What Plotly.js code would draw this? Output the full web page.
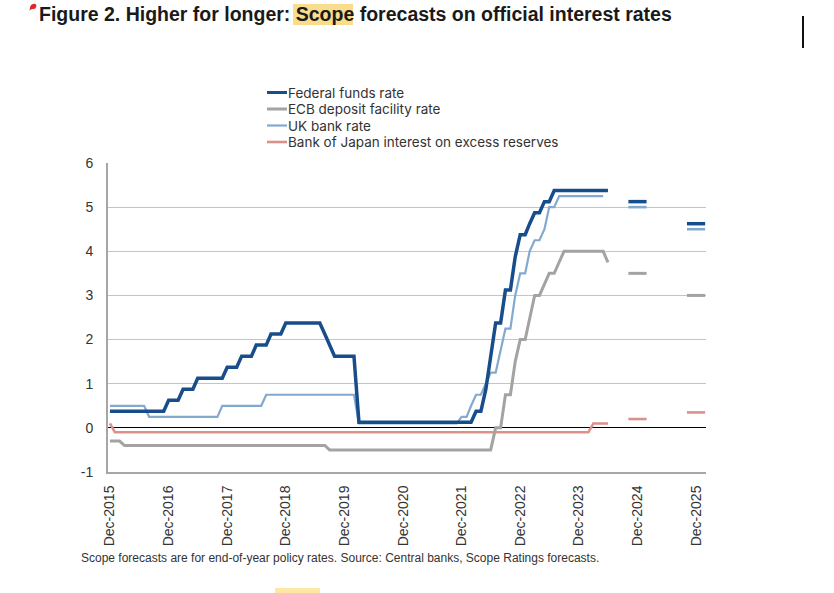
<!DOCTYPE html>
<html><head><meta charset="utf-8">
<script src="https://cdn.plot.ly/plotly-3.0.1.min.js"></script>
<style>html,body{margin:0;padding:0;background:#fff;} #chart{width:834px;height:593px;}</style>
</head><body><div id="chart"></div>
<script>
// ---- Data (monthly, month-end, Dec-2015 .. Jun-2024) ----
const seriesNames = ["Federal funds rate", "ECB deposit facility rate", "UK bank rate", "Bank of Japan interest on excess reserves"];

const fedFunds = [
 0.375,0.375,0.375,0.375,0.375,0.375,0.375,0.375,0.375,0.375,0.375,0.375,
 0.625,0.625,0.625,0.875,0.875,0.875,1.125,1.125,1.125,1.125,1.125,1.125,
 1.375,1.375,1.375,1.625,1.625,1.625,1.875,1.875,1.875,2.125,2.125,2.125,
 2.375,2.375,2.375,2.375,2.375,2.375,2.375,2.375,2.125,1.875,1.625,1.625,
 1.625,1.625,1.625,0.125,0.125,0.125,0.125,0.125,0.125,0.125,0.125,0.125,
 0.125,0.125,0.125,0.125,0.125,0.125,0.125,0.125,0.125,0.125,0.125,0.125,
 0.125,0.125,0.125,0.375,0.375,0.875,1.625,2.375,2.375,3.125,3.125,3.875,
 4.375,4.375,4.625,4.875,4.875,5.125,5.125,5.375,5.375,5.375,5.375,5.375,
 5.375,5.375,5.375,5.375,5.375,5.375,5.375
];
const ecbDeposit = [
 -0.3,-0.3,-0.3,-0.4,-0.4,-0.4,-0.4,-0.4,-0.4,-0.4,-0.4,-0.4,
 -0.4,-0.4,-0.4,-0.4,-0.4,-0.4,-0.4,-0.4,-0.4,-0.4,-0.4,-0.4,
 -0.4,-0.4,-0.4,-0.4,-0.4,-0.4,-0.4,-0.4,-0.4,-0.4,-0.4,-0.4,
 -0.4,-0.4,-0.4,-0.4,-0.4,-0.4,-0.4,-0.4,-0.4,-0.5,-0.5,-0.5,
 -0.5,-0.5,-0.5,-0.5,-0.5,-0.5,-0.5,-0.5,-0.5,-0.5,-0.5,-0.5,
 -0.5,-0.5,-0.5,-0.5,-0.5,-0.5,-0.5,-0.5,-0.5,-0.5,-0.5,-0.5,
 -0.5,-0.5,-0.5,-0.5,-0.5,-0.5,-0.5,0,0,0.75,0.75,1.5,
 2.0,2.0,2.5,3.0,3.0,3.25,3.5,3.5,3.75,4.0,4.0,4.0,
 4.0,4.0,4.0,4.0,4.0,4.0,3.75
];
const ukBank = [
 0.5,0.5,0.5,0.5,0.5,0.5,0.5,0.5,0.25,0.25,0.25,0.25,
 0.25,0.25,0.25,0.25,0.25,0.25,0.25,0.25,0.25,0.25,0.25,0.5,
 0.5,0.5,0.5,0.5,0.5,0.5,0.5,0.5,0.75,0.75,0.75,0.75,
 0.75,0.75,0.75,0.75,0.75,0.75,0.75,0.75,0.75,0.75,0.75,0.75,
 0.75,0.75,0.75,0.1,0.1,0.1,0.1,0.1,0.1,0.1,0.1,0.1,
 0.1,0.1,0.1,0.1,0.1,0.1,0.1,0.1,0.1,0.1,0.1,0.1,
 0.25,0.25,0.5,0.75,0.75,1.0,1.25,1.25,1.75,2.25,2.25,3.0,
 3.5,3.5,4.0,4.25,4.25,4.5,5.0,5.0,5.25,5.25,5.25,5.25,
 5.25,5.25,5.25,5.25,5.25,5.25
];
const bojExcess = [
 0.1,-0.1,-0.1,-0.1,-0.1,-0.1,-0.1,-0.1,-0.1,-0.1,-0.1,-0.1,
 -0.1,-0.1,-0.1,-0.1,-0.1,-0.1,-0.1,-0.1,-0.1,-0.1,-0.1,-0.1,
 -0.1,-0.1,-0.1,-0.1,-0.1,-0.1,-0.1,-0.1,-0.1,-0.1,-0.1,-0.1,
 -0.1,-0.1,-0.1,-0.1,-0.1,-0.1,-0.1,-0.1,-0.1,-0.1,-0.1,-0.1,
 -0.1,-0.1,-0.1,-0.1,-0.1,-0.1,-0.1,-0.1,-0.1,-0.1,-0.1,-0.1,
 -0.1,-0.1,-0.1,-0.1,-0.1,-0.1,-0.1,-0.1,-0.1,-0.1,-0.1,-0.1,
 -0.1,-0.1,-0.1,-0.1,-0.1,-0.1,-0.1,-0.1,-0.1,-0.1,-0.1,-0.1,
 -0.1,-0.1,-0.1,-0.1,-0.1,-0.1,-0.1,-0.1,-0.1,-0.1,-0.1,-0.1,
 -0.1,-0.1,-0.1,0.1,0.1,0.1,0.1
];

// Scope end-of-year forecasts
const forecastDates = ["2024-12-31", "2025-12-31"];
const fedForecast = [5.125, 4.625];
const ecbForecast = [3.5, 3.0];
const ukForecast = [5.0, 4.5];
const bojForecast = [0.2, 0.35];

// Tick labels
const tickYears = [2015,2016,2017,2018,2019,2020,2021,2022,2023,2024,2025];
const tickLabels = ["Dec-2015","Dec-2016","Dec-2017","Dec-2018","Dec-2019","Dec-2020","Dec-2021","Dec-2022","Dec-2023","Dec-2024","Dec-2025"];
const yTicks = [-1,0,1,2,3,4,5,6];
const yTickLabels = ["-1","0","1","2","3","4","5","6"];

// month-end dates starting Dec 2015
function monthEnd(i){ return new Date(Date.UTC(2015, 12 + i, 0)).toISOString().slice(0,10); }
function datesFor(arr){ return arr.map((_, i) => monthEnd(i)); }

const colors = ["#174D8A", "#A3A3A3", "#82A9D0", "#DB918B"];
const widths = [3.5, 3, 2.2, 2.6];
const hist = [fedFunds, ecbDeposit, ukBank, bojExcess];
const fc = [fedForecast, ecbForecast, ukForecast, bojForecast];
const drawOrder = [3, 1, 2, 0];

const traces = [];
drawOrder.forEach(k => {
  traces.push({
    type: "scatter", mode: "lines", name: seriesNames[k],
    x: datesFor(hist[k]), y: hist[k],
    line: {color: colors[k], width: widths[k]}
  });
});
drawOrder.forEach(k => {
  traces.push({
    type: "scatter", mode: "markers", name: seriesNames[k] + " (forecast)",
    x: forecastDates, y: fc[k],
    marker: {symbol: "line-ew", size: 13, line: {color: colors[k], width: Math.max(widths[k], 2.6)}}
  });
});

// pixel -> paper helpers (plot area 108..706 x 163..472)
const PL = 108, PR = 706, PT = 163, PB = 472;
const px = p => (p - PL) / (PR - PL);
const py = p => (PB - p) / (PB - PT);

const shapes = [
  {type: "rect", xref: "paper", yref: "paper", x0: px(293), x1: px(353), y0: py(25), y1: py(4),
   fillcolor: "#F9DD8C", line: {width: 0}, layer: "below"},
  {type: "path", xref: "paper", yref: "paper",
   path: `M ${px(36.5)},${py(6)} C ${px(36.5)},${py(3)} ${px(31.5)},${py(3)} ${px(30.3)},${py(6.5)} L ${px(29.3)},${py(11)} C ${px(30.5)},${py(8.8)} ${px(33)},${py(9.6)} ${px(35.3)},${py(8.6)} Z`,
   fillcolor: "#E0262B", line: {width: 0}},
  {type: "line", xref: "paper", yref: "paper", x0: px(803), x1: px(803), y0: py(16), y1: py(48),
   line: {color: "#111111", width: 2}},
  {type: "rect", xref: "paper", yref: "paper", x0: px(275), x1: px(320), y0: py(593), y1: py(588),
   fillcolor: "#FBE7A6", line: {width: 0}, layer: "below"}
];

const annotations = [
  {text: "<b>Figure 2. Higher for longer: Scope forecasts on official interest rates</b>",
   xref: "paper", yref: "paper", x: px(37), y: py(14), xanchor: "left", yanchor: "middle",
   showarrow: false, font: {family: "Liberation Sans, Arial, sans-serif", size: 19.5, color: "#1A1A1A"}},
  {text: "Scope forecasts are for end-of-year policy rates. Source: Central banks, Scope Ratings forecasts.",
   xref: "paper", yref: "paper", x: px(79), y: py(558), xanchor: "left", yanchor: "middle",
   showarrow: false, font: {family: "Liberation Sans, Arial, sans-serif", size: 12, color: "#333333"}}
];

// legend (custom, compact like the original)
const legendY = [92.5, 109, 125.5, 142];
seriesNames.forEach((name, k) => {
  shapes.push({type: "line", xref: "paper", yref: "paper", x0: px(267), x1: px(287), y0: py(legendY[k]), y1: py(legendY[k]),
    line: {color: colors[k], width: Math.min(widths[k], 3)}});
  annotations.push({text: name, xref: "paper", yref: "paper", x: px(287), y: py(legendY[k]),
    xanchor: "left", yanchor: "middle", showarrow: false, borderpad: 0,
    font: {family: "Inter, Open Sans, sans-serif", size: 13.5, color: "#333333"}});
});

const layout = {
  width: 834, height: 593,
  margin: {l: PL, r: 834 - PR, t: PT, b: 593 - PB, pad: 0},
  paper_bgcolor: "#ffffff", plot_bgcolor: "#ffffff",
  font: {family: "Liberation Sans, Arial, sans-serif", color: "#333333", size: 13},
  showlegend: false,
  xaxis: {
    type: "date", range: ["2015-12-19", "2026-03-03"],
    tickvals: tickYears.map(y => y + "-12-31"), ticktext: tickLabels,
    tickangle: -90, ticks: "", showgrid: false, zeroline: false,
    showline: true, linecolor: "#A6A6A6", linewidth: 2,
    tickfont: {family: "Liberation Sans, Arial, sans-serif", size: 14, color: "#333333"},
    ticklabelstandoff: 6, fixedrange: true
  },
  yaxis: {
    range: [-1, 6], tickvals: yTicks, ticktext: yTickLabels, ticks: "",
    showgrid: true, gridcolor: "#C4C4C4", gridwidth: 1,
    zeroline: true, zerolinecolor: "#000000", zerolinewidth: 1,
    showline: true, linecolor: "#A6A6A6", linewidth: 2,
    tickfont: {family: "Liberation Sans, Arial, sans-serif", size: 14, color: "#333333"},
    ticklabelstandoff: 10, fixedrange: true
  },
  shapes: shapes,
  annotations: annotations
};

Plotly.newPlot("chart", traces, layout, {displayModeBar: false, staticPlot: true});
</script></body></html>
